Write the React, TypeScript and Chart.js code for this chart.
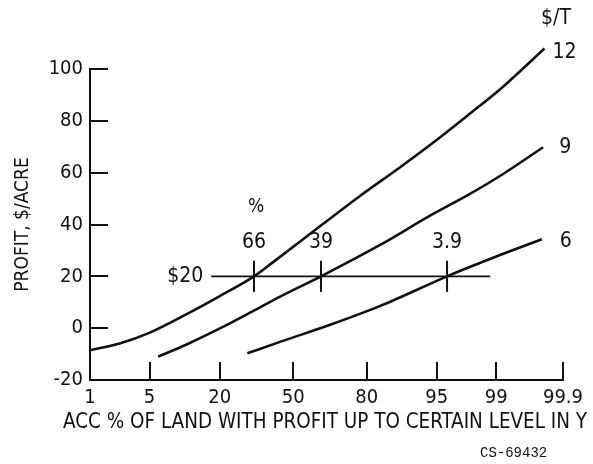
import React, { useEffect, useRef } from "react";
import { Chart, registerables } from "chart.js";

Chart.register(...registerables);

// ---- data ----
const xTickPercents = [1, 5, 20, 50, 80, 95, 99, 99.9];
const xTickLabels = ["1", "5", "20", "50", "80", "95", "99", "99.9"];
const yMin = -20;
const yMax = 100;
const yStep = 20;

const curve12Pct = [1, 2.4, 4.9, 11, 19.9, 32.7, 39.9, 62.2, 77.8, 88.9, 94.9, 97.8, 99.16, 99.8];
const curve12Val = [-8.5, -5.8, -1.9, 5.3, 12.3, 20, 24.8, 39.4, 51, 62, 72.4, 82.5, 92.8, 107.9];

const curve9Pct = [6.1, 11, 19.9, 32.1, 44.3, 62.5, 83.9, 94.1, 97.8, 99.16, 99.79];
const curve9Val = [-11, -6.4, -0.2, 6.5, 12.3, 20, 32, 43.3, 51.6, 59.2, 69.8];

const curve6Pct = [30, 44.3, 66.4, 83.9, 96.1, 97.8, 99.16, 99.78];
const curve6Val = [-9.7, -5.2, 1.3, 8.5, 20, 23.5, 28.5, 34.3];

const curveLabels = ["12", "9", "6"];
const unitLabel = "$/T";

const refLevel = 20;
const refLabel = "$20";
const refStartPct = 17.4;
const refEndPct = 98.8;
const markPercents = [32.7, 62.5, 96.1];
const markLabels = ["66", "39", "3.9"];
const markHeader = "%";
const markHalf = 6;

const xTitle = "ACC % OF LAND WITH PROFIT UP TO CERTAIN LEVEL IN Y";
const yTitle = "PROFIT, $/ACRE";
const figId = "CS-69432";

// ---- probability-scale transform (inverse normal CDF) ----
function probit(pct: number): number {
  const p = pct / 100;
  const a = [-39.69683028665376, 220.9460984245205, -275.9285104469687, 138.357751867269, -30.66479806614716, 2.506628277459239];
  const b = [-54.47609879822406, 161.5858368580409, -155.6989798598866, 66.80131188771972, -13.28068155288572];
  const c = [-0.007784894002430293, -0.3223964580411365, -2.400758277161838, -2.549732539343734, 4.374664141464968, 2.938163982698783];
  const d = [0.007784695709041462, 0.3224671290700398, 2.445134137142996, 3.754408661907416];
  const pl = 0.02425;
  const ph = 1 - pl;
  let q: number;
  let r: number;
  if (p < pl) {
    q = Math.sqrt(-2 * Math.log(p));
    return (((((c[0] * q + c[1]) * q + c[2]) * q + c[3]) * q + c[4]) * q + c[5]) /
      ((((d[0] * q + d[1]) * q + d[2]) * q + d[3]) * q + 1);
  }
  if (p <= ph) {
    q = p - 0.5;
    r = q * q;
    return ((((((a[0] * r + a[1]) * r + a[2]) * r + a[3]) * r + a[4]) * r + a[5]) * q) /
      (((((b[0] * r + b[1]) * r + b[2]) * r + b[3]) * r + b[4]) * r + 1);
  }
  q = Math.sqrt(-2 * Math.log(1 - p));
  return -(((((c[0] * q + c[1]) * q + c[2]) * q + c[3]) * q + c[4]) * q + c[5]) /
    ((((d[0] * q + d[1]) * q + d[2]) * q + d[3]) * q + 1);
}

const FONT = "'Liberation Sans Narrow', 'DejaVu Sans Condensed', 'Liberation Sans', sans-serif";
const INK = "#111111";

const toPts = (pcts: number[], vals: number[]) => pcts.map((p, i) => ({ x: probit(p), y: vals[i] }));

const textPlugin = {
  id: "textPlugin",
  afterDraw(chart: any) {
    const ctx = chart.ctx as CanvasRenderingContext2D;
    const xs = chart.scales.x;
    const ys = chart.scales.y;
    const area = chart.chartArea;
    ctx.save();
    ctx.strokeStyle = INK;
    ctx.fillStyle = INK;
    // inward tick marks
    ctx.lineWidth = 2;
    ctx.beginPath();
    ys.ticks.forEach((t: any) => {
      if (t.value === yMin) return;
      const py = Math.round(ys.getPixelForValue(t.value));
      ctx.moveTo(area.left, py);
      ctx.lineTo(area.left + 18, py);
    });
    xTickPercents.forEach((p, i) => {
      if (i === 0) return;
      const px = Math.round(xs.getPixelForValue(probit(p)));
      ctx.moveTo(px, area.bottom);
      ctx.lineTo(px, area.bottom - 18);
    });
    ctx.stroke();

    ctx.textBaseline = "middle";
    const yRef = ys.getPixelForValue(refLevel);
    // $20 label
    ctx.font = `21px ${FONT}`;
    ctx.textAlign = "right";
    ctx.fillText(refLabel, xs.getPixelForValue(probit(refStartPct)) - 8, yRef);
    // mark labels
    ctx.textAlign = "center";
    markPercents.forEach((p, i) => {
      const px = xs.getPixelForValue(probit(p));
      ctx.fillText(markLabels[i], px, yRef - 34);
    });
    ctx.font = `19px ${FONT}`;
    ctx.fillText(markHeader, xs.getPixelForValue(probit(markPercents[0])) + 2, yRef - 69);
    // curve labels
    ctx.font = `21px ${FONT}`;
    ctx.textAlign = "left";
    const ends = [
      { p: curve12Pct[curve12Pct.length - 1], v: curve12Val[curve12Val.length - 1], dx: 8, dy: 4 },
      { p: curve9Pct[curve9Pct.length - 1], v: curve9Val[curve9Val.length - 1], dx: 16, dy: 0 },
      { p: curve6Pct[curve6Pct.length - 1], v: curve6Val[curve6Val.length - 1], dx: 18, dy: 2 },
    ];
    ends.forEach((e, i) => {
      ctx.fillText(curveLabels[i], xs.getPixelForValue(probit(e.p)) + e.dx, ys.getPixelForValue(e.v) + e.dy);
    });
    ctx.fillText(unitLabel, 541, 19);
    // x title
    ctx.font = `22px ${FONT}`;
    ctx.textAlign = "center";
    ctx.fillText(xTitle, 325, 422, 524);
    // figure id
    ctx.font = `14px 'Liberation Mono', 'DejaVu Sans Mono', monospace`;
    ctx.textAlign = "left";
    ctx.fillText(figId, 480, 453, 78);
    ctx.restore();
  },
};

export default function App() {
  const ref = useRef<HTMLCanvasElement | null>(null);
  useEffect(() => {
    if (!ref.current) return;
    const lineStyle = {
      borderColor: INK,
      borderWidth: 2.6,
      pointRadius: 0,
      cubicInterpolationMode: "monotone" as const,
      fill: false,
      clip: false as any,
    };
    const thin = {
      borderColor: INK,
      borderWidth: 1.6,
      pointRadius: 0,
      tension: 0,
      fill: false,
      clip: false as any,
    };
    const chart = new Chart(ref.current, {
      type: "line",
      data: {
        datasets: [
          { label: "12", data: toPts(curve12Pct, curve12Val), ...lineStyle },
          { label: "9", data: toPts(curve9Pct, curve9Val), ...lineStyle },
          { label: "6", data: toPts(curve6Pct, curve6Val), ...lineStyle },
          {
            label: "ref",
            data: [
              { x: probit(refStartPct), y: refLevel },
              { x: probit(refEndPct), y: refLevel },
            ],
            ...thin,
          },
          ...markPercents.map((p, i) => ({
            label: "mark" + markLabels[i],
            data: [
              { x: probit(p), y: refLevel - markHalf },
              { x: probit(p), y: refLevel + markHalf },
            ],
            ...thin,
            borderWidth: 2,
          })),
        ],
      },
      options: {
        responsive: false,
        animation: false,
        parsing: false as any,
        layout: { padding: { top: 69, right: 30, left: 0, bottom: 0 } },
        plugins: { legend: { display: false }, tooltip: { enabled: false } },
        scales: {
          x: {
            type: "linear",
            min: probit(xTickPercents[0]),
            max: probit(xTickPercents[xTickPercents.length - 1]),
            afterBuildTicks: (s: any) => {
              s.ticks = xTickPercents.map((p) => ({ value: probit(p) }));
            },
            afterFit: (s: any) => {
              s.height = 84;
            },
            ticks: {
              autoSkip: false,
              maxRotation: 0,
              padding: 6,
              color: INK,
              font: { family: FONT, size: 20 },
              callback: (_v: any, i: number) => xTickLabels[i],
            },
            grid: { display: false, drawTicks: false },
            border: { display: true, color: INK, width: 2 },
          },
          y: {
            type: "linear",
            min: yMin,
            max: yMax,
            afterFit: (s: any) => {
              s.width = 90;
            },
            ticks: {
              stepSize: yStep,
              padding: 7,
              color: INK,
              font: { family: FONT, size: 20 },
              callback: (v: any) => String(v),
            },
            grid: { display: false, drawTicks: false },
            border: { display: true, color: INK, width: 2 },
            title: {
              display: true,
              text: yTitle,
              color: INK,
              font: { family: FONT, size: 19 },
              padding: { top: 12, bottom: 0 },
            },
          },
        },
      },
      plugins: [textPlugin],
    });
    return () => chart.destroy();
  }, []);
  return (
    <div style={{ position: "fixed", left: 0, top: 0, width: 593, height: 464, background: "#fff" }}>
      <canvas ref={ref} width={593} height={464} style={{ display: "block" }} />
    </div>
  );
}
